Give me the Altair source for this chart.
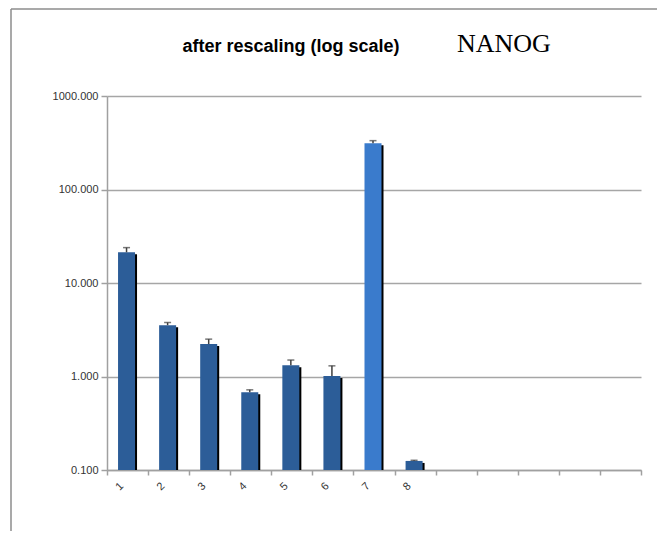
import altair as alt
import pandas as pd

# ---- data ----
categories = ["1", "2", "3", "4", "5", "6", "7", "8"]
values = [21.3, 3.54, 2.22, 0.68, 1.32, 1.01, 312.0, 0.125]
err_top = [23.9, 3.78, 2.51, 0.72, 1.50, 1.30, 333.0, 0.127]
bar_group = ["a", "a", "a", "a", "a", "a", "b", "a"]
x_slots = [str(i) for i in range(1, 14)]
y_ticks = [0.1, 1, 10, 100, 1000]
title_text = "after rescaling (log scale)"
gene_text = "NANOG"

df = pd.DataFrame({"cat": categories, "value": values, "err": err_top, "grp": bar_group})
one = pd.DataFrame({"k": [0]})

W, H = 534, 374
PAD = {"left": 99, "top": 88, "right": 16, "bottom": 61}
BW = 17

x_enc = alt.X(
    "cat:N",
    scale=alt.Scale(domain=x_slots, paddingInner=0, paddingOuter=0),
    axis=alt.Axis(
        title=None,
        labelAngle=-45,
        labelAlign="right",
        labelBaseline="middle",
        labelPadding=9,
        labelOffset=-6,
        labelFont="Liberation Sans",
        labelFontSize=11,
        labelColor="#333333",
        labelExpr="toNumber(datum.value) <= 8 ? datum.label : ''",
        tickBand="extent",
        tickSize=5,
        tickColor="#A0A0A0",
        tickWidth=1.5,
        domainColor="#A0A0A0",
        domainWidth=1.5,
        grid=False,
    ),
)
y_scale = alt.Scale(type="log", domain=[0.1, 1000], nice=False)
y_enc = alt.Y(
    "value:Q",
    scale=y_scale,
    axis=alt.Axis(
        title=None,
        values=y_ticks,
        format=".3f",
        labelFont="Liberation Sans",
        labelFontSize=11,
        labelColor="#333333",
        labelPadding=3,
        tickSize=6,
        tickColor="#A0A0A0",
        tickWidth=1.5,
        domainColor="#A0A0A0",
        domainWidth=1.5,
        grid=True,
        gridColor="#A6A6A6",
        gridWidth=1.5,
    ),
)

color_enc = alt.Color(
    "grp:N",
    scale=alt.Scale(domain=["a", "b"], range=["#2C5D98", "#3A7BCC"]),
    legend=None,
)

base = alt.Chart(df)

shadow = base.mark_bar(color="black", width=BW, xOffset=1, yOffset=2).encode(
    x=x_enc, y=y_enc, y2=alt.datum(0.1)
)
bars = base.mark_bar(width=BW, xOffset=-1).encode(
    x=x_enc, y=y_enc, y2=alt.datum(0.1), color=color_enc
)
err_rule = base.mark_rule(color="#3F3F3F", strokeWidth=1.5, xOffset=-1).encode(
    x=x_enc, y=alt.Y("value:Q", scale=y_scale), y2="err:Q"
)
err_cap = base.mark_tick(color="#3F3F3F", thickness=1.5, size=7, xOffset=-1).encode(
    x=x_enc, y=alt.Y("err:Q", scale=y_scale)
)

frame = alt.Chart(one)
frame_left = frame.mark_rule(color="#8C8C8C", strokeWidth=1.5).encode(
    x=alt.value(-96), y=alt.value(-87), y2=alt.value(H + PAD["bottom"])
)
frame_top = frame.mark_rule(color="#8C8C8C", strokeWidth=1.5).encode(
    x=alt.value(-96), x2=alt.value(W + PAD["right"]), y=alt.value(-87)
)

title_mark = frame.mark_text(
    font="Liberation Sans", fontSize=18, fontWeight="bold", color="black",
    align="center", baseline="alphabetic",
).encode(x=alt.value(184), y=alt.value(-44.5), text=alt.value(title_text))

gene_mark = frame.mark_text(
    font="Liberation Serif", fontSize=26, color="black",
    align="left", baseline="alphabetic",
).encode(x=alt.value(350), y=alt.value(-44), text=alt.value(gene_text))

chart = alt.layer(
    frame_left, frame_top, shadow, bars, err_rule, err_cap, title_mark, gene_mark
).properties(
    width=W, height=H, padding=PAD, autosize="none", background="white"
).configure_view(stroke=None)

chart.save("out.html", embed_options={"renderer": "svg", "actions": False})
